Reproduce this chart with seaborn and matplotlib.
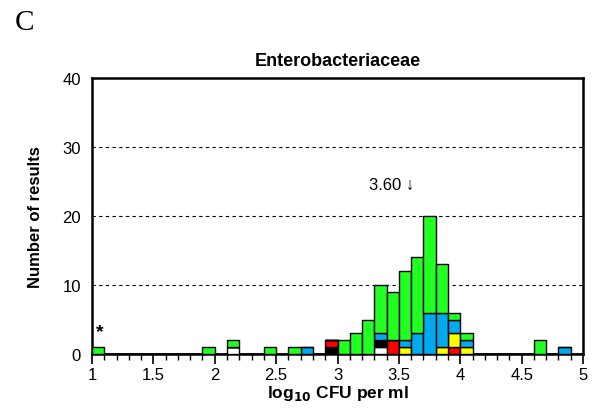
import numpy as np
import pandas as pd
import matplotlib
matplotlib.use("Agg")
import matplotlib.pyplot as plt
import seaborn as sns
from matplotlib.ticker import MultipleLocator

# ---- data ----
bin_left = [1.0, 1.9, 2.1, 2.4, 2.6, 2.7, 2.9, 3.0, 3.1, 3.2, 3.3, 3.4, 3.5, 3.6, 3.7, 3.8, 3.9, 4.0, 4.6, 4.8]
white  = [0, 0, 1, 0, 0, 0, 0, 0, 0, 0, 1, 0, 0, 0, 0, 0, 0, 0, 0, 0]
black  = [0, 0, 0, 0, 0, 0, 1, 0, 0, 0, 1, 0, 0, 0, 0, 0, 0, 0, 0, 0]
red    = [0, 0, 0, 0, 0, 0, 1, 0, 0, 0, 0, 2, 0, 0, 0, 0, 1, 0, 0, 0]
yellow = [0, 0, 0, 0, 0, 0, 0, 0, 0, 0, 0, 0, 1, 0, 0, 1, 2, 1, 0, 0]
blue   = [0, 0, 0, 0, 0, 1, 0, 0, 0, 0, 1, 0, 1, 3, 6, 5, 2, 1, 0, 1]
green  = [1, 1, 1, 1, 1, 0, 0, 2, 3, 5, 7, 7, 10, 11, 14, 7, 1, 1, 2, 0]

categories = ["white", "black", "red", "yellow", "blue", "green"]
series = [white, black, red, yellow, blue, green]
palette = {"white": "#FFFFFF", "black": "#000000", "red": "#FF0000",
           "yellow": "#FFFF00", "blue": "#00AAEE", "green": "#22FF22"}

median_label = "3.60"
y_ticks = [0, 10, 20, 30, 40]
x_ticks = [1, 1.5, 2, 2.5, 3, 3.5, 4, 4.5, 5]
x_ticklabels = ["1", "1.5", "2", "2.5", "3", "3.5", "4", "4.5", "5"]

rows = []
for cat, vals in zip(categories, series):
    for b, v in zip(bin_left, vals):
        rows.append({"x": round(b + 0.05, 2), "cat": cat, "n": v})
df = pd.DataFrame(rows)

sns.set_style("white")
plt.rcParams["font.family"] = ["Liberation Sans", "DejaVu Sans"]
plt.rcParams.update({"text.color": "black", "axes.labelcolor": "black",
                     "xtick.color": "black", "ytick.color": "black"})

fig = plt.figure(figsize=(5.94, 4.14), dpi=100)
ax = fig.add_axes([0.1549, 0.1425, 0.8266, 0.6667])

# hue order reversed so that first listed category sits at bottom of the stack
sns.histplot(data=df, x="x", weights="n", hue="cat", hue_order=categories[::-1],
             binwidth=0.1, binrange=(1.0, 5.0), multiple="stack", palette=palette, alpha=1,
             edgecolor="black", linewidth=1, legend=False, ax=ax, zorder=3)

ax.set_xlim(1, 5)
ax.set_ylim(0, 40)
ax.set_xticks(x_ticks)
ax.set_xticklabels(x_ticklabels)
ax.xaxis.set_minor_locator(MultipleLocator(0.1))
ax.set_yticks(y_ticks)
ax.tick_params(axis="x", which="major", direction="out", length=7, width=1.2,
               labelsize=12, pad=2, bottom=True, colors="black")
ax.tick_params(axis="x", which="minor", direction="out", length=4, width=1.0, bottom=True,
               colors="black")
ax.tick_params(axis="y", length=0, labelsize=12, pad=8, colors="black")

for yv in [10, 20, 30]:
    ax.axhline(yv, color="black", linestyle=(0, (3, 3)), linewidth=0.8, zorder=1)

for s in ax.spines.values():
    s.set_visible(True)
    s.set_color("black")
    s.set_linewidth(1.8)

ax.set_xlabel("log$_{\\mathbf{10}}$ CFU per ml", fontsize=12.5, fontweight="bold", labelpad=1,
              color="black")
ax.set_ylabel("Number of results", fontsize=12, fontweight="bold", labelpad=14, color="black")
ax.set_title("Enterobacteriaceae", fontsize=13, fontweight="bold", pad=9, color="black")

ax.text(3.44, 24.6, median_label + " \u2193", ha="center", va="center", fontsize=12,
        color="black", family=["Liberation Sans", "DejaVu Sans"])
ax.text(1.06, 3.2, "*", ha="center", va="center", fontsize=14, fontweight="bold", color="black")

fig.text(0.025, 0.944, "C", fontsize=21, family="Liberation Serif", ha="left", va="center",
         color="black")

fig.savefig("out.png", dpi=100)
